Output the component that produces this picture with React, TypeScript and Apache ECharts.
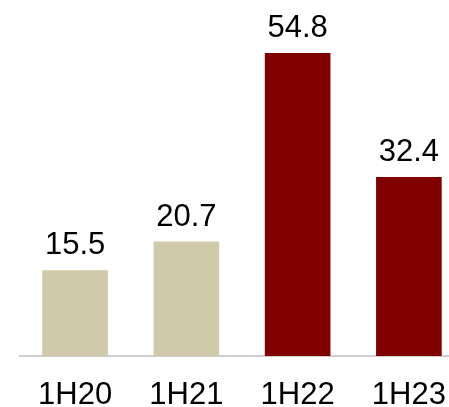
import React, { useEffect, useRef } from "react";
import * as echarts from "echarts";

const categories = ["1H20", "1H21", "1H22", "1H23"];
const values = [15.5, 20.7, 54.8, 32.4];
const barColors = ["#D0C9AA", "#D0C9AA", "#800000", "#800000"];

export default function App() {
  const ref = useRef<HTMLDivElement>(null);
  useEffect(() => {
    if (!ref.current) return;
    const chart = echarts.init(ref.current, undefined, { renderer: "svg" });
    chart.setOption({
      animation: false,
      grid: {
        left: 19.5,
        right: -15.5,
        top: 0,
        bottom: 51,
        containLabel: false,
        outerBoundsMode: "none",
      },
      xAxis: {
        type: "category",
        data: categories,
        axisLine: { show: true, lineStyle: { color: "#BFBFBF", width: 1.5 } },
        axisTick: { show: false },
        axisLabel: {
          color: "#000",
          fontSize: 31,
          lineHeight: 24,
          fontFamily: "Liberation Sans, Arial, sans-serif",
          margin: 25,
        },
      },
      yAxis: {
        type: "value",
        min: 0,
        max: 64.4,
        show: false,
        splitLine: { show: false },
      },
      series: [
        {
          type: "bar",
          barWidth: "59%",
          data: values.map((v, i) => ({ value: v, itemStyle: { color: barColors[i] } })),
          label: {
            show: true,
            position: "top",
            distance: 11,
            color: "#000",
            fontSize: 31,
            fontFamily: "Liberation Sans, Arial, sans-serif",
          },
        },
      ],
    });
    return () => chart.dispose();
  }, []);
  return (
    <div
      ref={ref}
      style={{ position: "fixed", left: 0, top: 0, width: 449, height: 407 }}
    />
  );
}
